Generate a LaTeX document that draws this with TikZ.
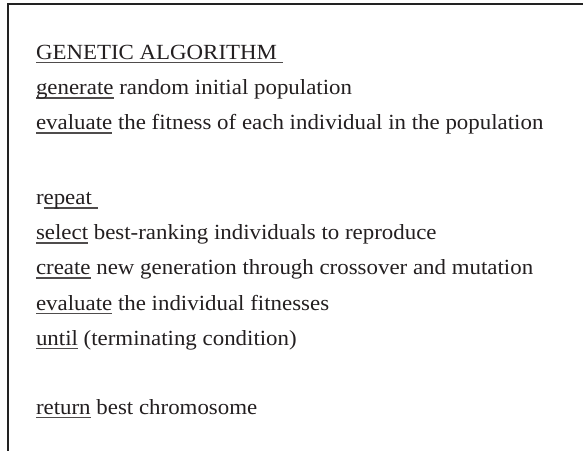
\documentclass[tikz,border=0pt]{standalone}
\usepackage{fontspec}
\setmainfont[FakeStretch=1.06]{Liberation Serif}
\definecolor{ink}{HTML}{231F20}
\definecolor{frame}{HTML}{222222}
\newcommand\myul[1]{\setbox0\hbox{#1}\rlap{\color{ink!80}\rule[-3.6bp]{\wd0}{1.1bp}}\box0\relax}
\tikzset{
  codeline/.style={anchor=base west, inner sep=0pt, outer sep=0pt, text=ink,
    font=\fontsize{21.6bp}{24bp}\selectfont},
  framerule/.style={draw=frame, line width=2bp}
}
\begin{document}
\begin{tikzpicture}[x=1bp,y=-1bp]
\useasboundingbox (0,0) rectangle (583,451);
\fill[white] (0,0) rectangle (583,451);
\coordinate (tl) at (8,4);
\coordinate (tr) at (583,4);
\coordinate (bl) at (8,451);
\draw[framerule] (tr) -- (tl) -- (bl);
\node[codeline] (l1) at (36,59.5) {\myul{GENETIC ALGORITHM\ }};
\node[codeline] (l2) at (36,95) {\myul{generate} random initial population};
\node[codeline] (l3) at (36,130) {\myul{evaluate} the fitness of each individual in the population};
\node[codeline] (l4) at (36,205) {r\myul{epeat\ }};
\node[codeline] (l5) at (36,240) {\myul{select} best-ranking individuals to reproduce};
\node[codeline] (l6) at (36,275) {\myul{create} new generation through crossover and mutation};
\node[codeline] (l7) at (36,310) {\myul{evaluate} the individual fitnesses};
\node[codeline] (l8) at (36,345) {\myul{until} (terminating condition)};
\node[codeline] (l9) at (36,414.5) {\myul{return} best chromosome};
\end{tikzpicture}
\end{document}
